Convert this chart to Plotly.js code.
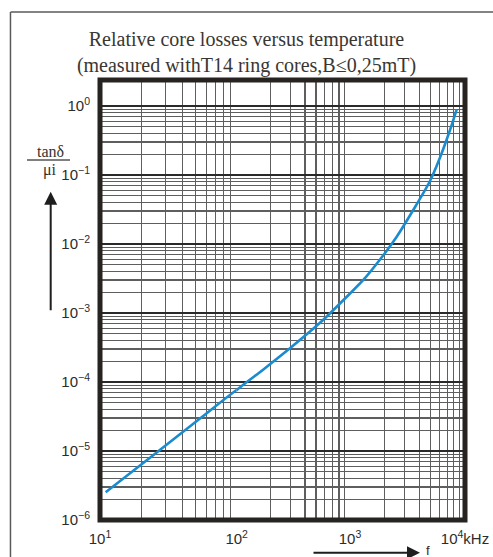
<!DOCTYPE html>
<html>
<head>
<meta charset="utf-8">
<script src="https://cdn.plot.ly/plotly-3.0.1.min.js"></script>
<style>
  html, body { margin: 0; padding: 0; background: #ffffff; }
  #chart { width: 493px; height: 557px; }
</style>
</head>
<body>
<div id="chart"></div>
<script>
// Relative core loss factor tanδ/μi against frequency (kHz)
const freqKHz = [11, 23.2, 53.9, 100, 171, 295, 543, 1000, 1305, 1824, 2547, 3548, 4963, 6063, 7406, 8472];
const lossFactor = [2.52e-6, 8.0e-6, 2.95e-5, 7.66e-5, 1.51e-4, 3.08e-4, 7.21e-4, 1.92e-3, 3.01e-3, 5.96e-3, 1.276e-2, 3.11e-2, 8.18e-2, 0.179, 0.449, 0.896];

// Axis decades and labels
const xDecades = [1, 2, 3];                    // log10 of each decade start
const xDecadeWidths = [0.3745, 0.3105, 0.315]; // share of the plot width per decade
const xTickVals = [10, 100, 1000, 10000];
const xTickText = ['10<sup>1</sup>', '10<sup>2</sup>', '10<sup>3</sup>', '10<sup>4</sup>kHz'];
const yTickVals = [1e-6, 1e-5, 1e-4, 1e-3, 1e-2, 1e-1, 1];
const yTickText = ['10<sup>−6</sup>', '10<sup>−5</sup>', '10<sup>−4</sup>', '10<sup>−3</sup>', '10<sup>−2</sup>', '10<sup>−1</sup>', '10<sup>0</sup>'];

const titleText = 'Relative core losses versus temperature<br>(measured withT14 ring cores,B≤0,25mT)';

const inkDark = '#262320';
const gridDark = '#2a2a2a';
const gridGray = '#5e5e5e';
const curveBlue = '#1b8bd0';
const labelFont = { family: 'Liberation Sans, Arial, sans-serif', size: 15, color: '#2c2c2c' };

function intermediates(lo, hi) {
  const out = [];
  for (let e = lo; e < hi; e++) {
    for (let m = 2; m <= 9; m++) out.push(m * Math.pow(10, e));
  }
  return out;
}

const traces = [];
const layout = {
  width: 493,
  height: 557,
  margin: { l: 100, r: 28, t: 80, b: 37 },
  paper_bgcolor: '#ffffff',
  plot_bgcolor: '#ffffff',
  showlegend: false,
  title: {
    text: titleText,
    font: { family: 'Liberation Serif, Times New Roman, serif', size: 20, color: '#3a3632' },
    x: 0.5, xref: 'container',
    y: 0.918, yref: 'container', yanchor: 'top'
  },
  yaxis: {
    type: 'log',
    range: [-6, 0.377],
    tickmode: 'array',
    tickvals: yTickVals,
    ticktext: yTickText,
    ticks: '',
    ticklabelstandoff: 9,
    tickfont: labelFont,
    showline: false,
    zeroline: false,
    showgrid: true,
    gridcolor: gridDark,
    gridwidth: 1.3,
    minor: { tickmode: 'array', tickvals: intermediates(-6, 0), showgrid: true, gridcolor: gridGray, gridwidth: 1.2, ticks: '' }
  },
  shapes: [],
  annotations: []
};

// One log axis per decade, sharing the y axis.  Each decade's trace also
// carries its neighbouring points (clipped away by the subplot) so the
// spline keeps a continuous tangent across decade boundaries.
let start = 0;
xDecades.forEach((d, i) => {
  const key = i === 0 ? 'xaxis' : 'xaxis' + (i + 1);
  const ref = i === 0 ? 'x' : 'x' + (i + 1);
  const end = i === xDecades.length - 1 ? 1 : start + xDecadeWidths[i];
  const lo = Math.pow(10, d), hi = Math.pow(10, d + 1);
  const isLast = i === xDecades.length - 1;
  const vals = [], txt = [];
  xTickVals.forEach((v, j) => {
    if (v >= lo && (v < hi || (isLast && v <= hi))) { vals.push(v); txt.push(xTickText[j]); }
  });
  layout[key] = {
    type: 'log',
    range: [d, d + 1],
    domain: [start, end],
    anchor: 'y',
    tickmode: 'array',
    tickvals: vals,
    ticktext: txt,
    ticks: '',
    ticklabelstandoff: 8,
    tickfont: labelFont,
    showline: false,
    zeroline: false,
    showgrid: true,
    gridcolor: gridDark,
    gridwidth: 2,
    minor: { tickmode: 'array', tickvals: intermediates(d, d + 1), showgrid: true, gridcolor: gridGray, gridwidth: 1.2, ticks: '' }
  };
  const inside = [];
  freqKHz.forEach((f, j) => { if (f >= lo && f <= hi) inside.push(j); });
  const first = Math.max(0, inside[0] - 1);
  const last = Math.min(freqKHz.length - 1, inside[inside.length - 1] + 1);
  traces.push({
    x: freqKHz.slice(first, last + 1),
    y: lossFactor.slice(first, last + 1),
    xaxis: ref, yaxis: 'y',
    type: 'scatter', mode: 'lines',
    line: { color: curveBlue, width: 2.6, shape: 'spline', smoothing: 0.8 },
    hoverinfo: 'skip'
  });
  start = end;
});

// Heavy frame round the plotting area
layout.shapes.push({
  type: 'rect', xref: 'paper', yref: 'paper', x0: 0, x1: 1, y0: 0, y1: 1,
  line: { color: inkDark, width: 5 }, layer: 'above'
});
// Thin page border (top and left)
layout.shapes.push({
  type: 'line', xref: 'paper', yref: 'paper', x0: -0.245, x1: 1.08, y0: 1.1545, y1: 1.1545,
  line: { color: '#5a5a5a', width: 1.5 }
});
layout.shapes.push({
  type: 'line', xref: 'paper', yref: 'paper', x0: -0.2453, x1: -0.2453, y0: 1.1545, y1: -0.09,
  line: { color: '#5a5a5a', width: 1.5 }
});
// Fraction bar of the y label
layout.shapes.push({
  type: 'line', xref: 'paper', yref: 'paper', x0: -0.2, x1: -0.0822, y0: 0.8182, y1: 0.8182,
  line: { color: '#555555', width: 1.3 }
});

const serifLabel = { family: 'Liberation Serif, Times New Roman, serif', size: 16, color: '#333333' };
layout.annotations.push(
  { text: 'tanδ', xref: 'paper', yref: 'paper', x: -0.1356, y: 0.8364, xanchor: 'center', yanchor: 'middle',
    showarrow: false, font: serifLabel },
  { text: 'μi', xref: 'paper', yref: 'paper', x: -0.137, y: 0.7955, xanchor: 'center', yanchor: 'middle',
    showarrow: false, font: serifLabel },
  // upward arrow beside the y label
  { text: '', xref: 'paper', yref: 'paper', x: -0.1351, y: 0.7461, ax: 0, ay: 120,
    showarrow: true, arrowhead: 2, arrowsize: 1.3, arrowwidth: 2, arrowcolor: '#1e1e1e' },
  // frequency arrow under the x axis
  { text: '', xref: 'paper', yref: 'paper', x: 0.8767, y: -0.0743, ax: -108, ay: 0,
    showarrow: true, arrowhead: 2, arrowsize: 1.3, arrowwidth: 2, arrowcolor: '#1e1e1e' },
  { text: 'f', xref: 'paper', yref: 'paper', x: 0.8986, y: -0.07, xanchor: 'center', yanchor: 'middle',
    showarrow: false, font: { family: 'Liberation Sans, Arial, sans-serif', size: 13, color: '#2c2c2c' } }
);

Plotly.newPlot('chart', traces, layout, { staticPlot: true, displayModeBar: false });
</script>
</body>
</html>
